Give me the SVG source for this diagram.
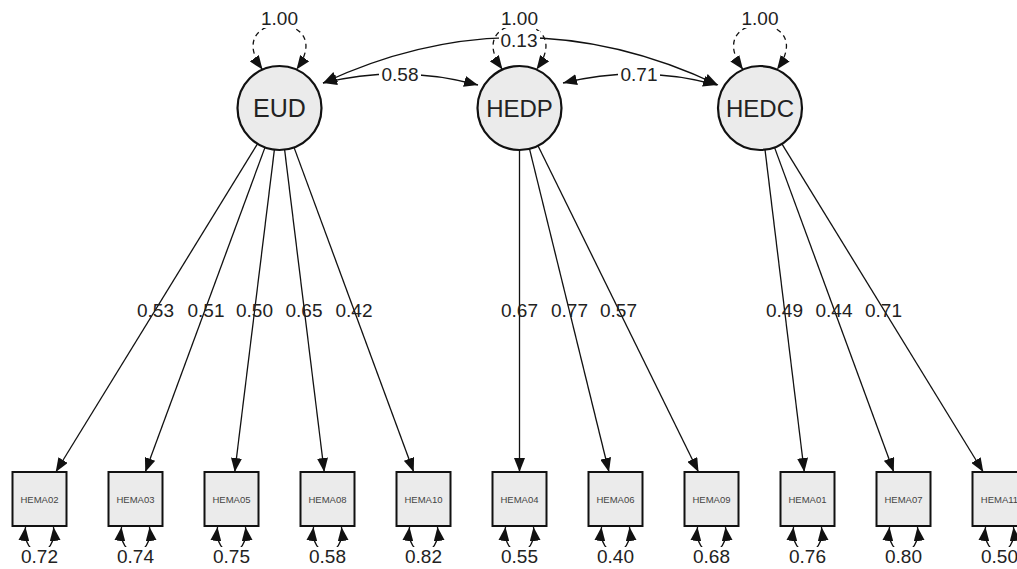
<svg xmlns="http://www.w3.org/2000/svg" width="1017" height="569" viewBox="0 0 1017 569">
<style>
.lat{fill:#ebebeb;stroke:#111;stroke-width:2.2}
.man{fill:#ebebeb;stroke:#111;stroke-width:2}
.edge{fill:none;stroke:#111;stroke-width:1.3}
.dash{fill:none;stroke:#111;stroke-width:1.3;stroke-dasharray:5,4}
.lt{font-family:"Liberation Sans",Arial,sans-serif;font-size:25px;fill:#222;text-anchor:middle}
.mt{font-family:"Liberation Sans",Arial,sans-serif;font-size:9.5px;fill:#444;text-anchor:middle}
.el{font-family:"Liberation Sans",Arial,sans-serif;font-size:19px;fill:#222;text-anchor:middle}
.bg{fill:#fff}
</style>
<defs>
<marker id="ah" markerUnits="userSpaceOnUse" markerWidth="14" markerHeight="11" refX="14" refY="5.5" orient="auto-start-reverse" viewBox="0 0 14 11">
<path d="M0,0 L14,5.5 L0,11 z" fill="#111"/>
</marker>
</defs>
<g id="connectors">
<line class="edge" x1="257.5" y1="143.8" x2="55.75" y2="472" marker-end="url(#ah)"/>
<line class="edge" x1="265" y1="147.4" x2="145.25" y2="472" marker-end="url(#ah)"/>
<line class="edge" x1="274.4" y1="149.7" x2="234.75" y2="472" marker-end="url(#ah)"/>
<line class="edge" x1="284.6" y1="149.7" x2="324.25" y2="472" marker-end="url(#ah)"/>
<line class="edge" x1="294" y1="147.4" x2="413.75" y2="472" marker-end="url(#ah)"/>
<line class="edge" x1="519.5" y1="150" x2="519.5" y2="472" marker-end="url(#ah)"/>
<line class="edge" x1="529.5" y1="148.8" x2="609" y2="472" marker-end="url(#ah)"/>
<line class="edge" x1="538" y1="145.7" x2="698.5" y2="472" marker-end="url(#ah)"/>
<line class="edge" x1="765" y1="149.7" x2="804.3" y2="472" marker-end="url(#ah)"/>
<line class="edge" x1="774.5" y1="147.4" x2="893.8" y2="472" marker-end="url(#ah)"/>
<line class="edge" x1="781.9" y1="143.8" x2="983.3" y2="472" marker-end="url(#ah)"/>
<path class="dash" d="M262.5,69.6 C219.5,10 339.5,10 296.5,69.6" marker-start="url(#ah)" marker-end="url(#ah)"/>
<path class="dash" d="M502.5,69.6 C459.5,10 579.5,10 536.5,69.6" marker-start="url(#ah)" marker-end="url(#ah)"/>
<path class="dash" d="M743,69.6 C700,10 820,10 777,69.6" marker-start="url(#ah)" marker-end="url(#ah)"/>
<path class="edge" d="M323,83 Q520,-9 718,85" marker-start="url(#ah)" marker-end="url(#ah)"/>
<path class="edge" d="M323,83 Q400,64 478,85" marker-start="url(#ah)" marker-end="url(#ah)"/>
<path class="edge" d="M563,83 Q640,64 717,85" marker-start="url(#ah)" marker-end="url(#ah)"/>
<path class="edge" d="M25.5,527 C21.5,560 57.5,560 53.5,527" marker-start="url(#ah)" marker-end="url(#ah)"/>
<path class="edge" d="M121.5,527 C117.5,560 153.5,560 149.5,527" marker-start="url(#ah)" marker-end="url(#ah)"/>
<path class="edge" d="M217.5,527 C213.5,560 249.5,560 245.5,527" marker-start="url(#ah)" marker-end="url(#ah)"/>
<path class="edge" d="M313.5,527 C309.5,560 345.5,560 341.5,527" marker-start="url(#ah)" marker-end="url(#ah)"/>
<path class="edge" d="M409.5,527 C405.5,560 441.5,560 437.5,527" marker-start="url(#ah)" marker-end="url(#ah)"/>
<path class="edge" d="M505.5,527 C501.5,560 537.5,560 533.5,527" marker-start="url(#ah)" marker-end="url(#ah)"/>
<path class="edge" d="M601.5,527 C597.5,560 633.5,560 629.5,527" marker-start="url(#ah)" marker-end="url(#ah)"/>
<path class="edge" d="M697.5,527 C693.5,560 729.5,560 725.5,527" marker-start="url(#ah)" marker-end="url(#ah)"/>
<path class="edge" d="M793.5,527 C789.5,560 825.5,560 821.5,527" marker-start="url(#ah)" marker-end="url(#ah)"/>
<path class="edge" d="M889.5,527 C885.5,560 921.5,560 917.5,527" marker-start="url(#ah)" marker-end="url(#ah)"/>
<path class="edge" d="M985.5,527 C981.5,560 1017.5,560 1013.5,527" marker-start="url(#ah)" marker-end="url(#ah)"/>
</g>
<g id="edge-labels">
<rect class="bg" x="259" y="8" width="41" height="20"/><text class="el" x="279.5" y="25">1.00</text>
<rect class="bg" x="499" y="8" width="41" height="20"/><text class="el" x="519.5" y="25">1.00</text>
<rect class="bg" x="740" y="8" width="41" height="20"/><text class="el" x="760" y="25">1.00</text>
<rect class="bg" x="499" y="31" width="41" height="18"/><text class="el" x="519" y="47">0.13</text>
<rect class="bg" x="379" y="65" width="42" height="19"/><text class="el" x="400" y="81">0.58</text>
<rect class="bg" x="618" y="65" width="42" height="19"/><text class="el" x="639" y="81">0.71</text>
<text class="el" x="155.5" y="317">0.53</text>
<text class="el" x="206" y="317">0.51</text>
<text class="el" x="254.5" y="317">0.50</text>
<text class="el" x="304" y="317">0.65</text>
<text class="el" x="354" y="317">0.42</text>
<text class="el" x="519.5" y="317">0.67</text>
<text class="el" x="569.5" y="317">0.77</text>
<text class="el" x="618.5" y="317">0.57</text>
<text class="el" x="784.5" y="317">0.49</text>
<text class="el" x="834" y="317">0.44</text>
<text class="el" x="883.5" y="317">0.71</text>
<rect class="bg" x="20" y="547" width="39" height="20"/><text class="el" x="39.5" y="563">0.72</text>
<rect class="bg" x="116" y="547" width="39" height="20"/><text class="el" x="135.5" y="563">0.74</text>
<rect class="bg" x="212" y="547" width="39" height="20"/><text class="el" x="231.5" y="563">0.75</text>
<rect class="bg" x="308" y="547" width="39" height="20"/><text class="el" x="327.5" y="563">0.58</text>
<rect class="bg" x="404" y="547" width="39" height="20"/><text class="el" x="423.5" y="563">0.82</text>
<rect class="bg" x="500" y="547" width="39" height="20"/><text class="el" x="519.5" y="563">0.55</text>
<rect class="bg" x="596" y="547" width="39" height="20"/><text class="el" x="615.5" y="563">0.40</text>
<rect class="bg" x="692" y="547" width="39" height="20"/><text class="el" x="711.5" y="563">0.68</text>
<rect class="bg" x="788" y="547" width="39" height="20"/><text class="el" x="807.5" y="563">0.76</text>
<rect class="bg" x="884" y="547" width="39" height="20"/><text class="el" x="903.5" y="563">0.80</text>
<rect class="bg" x="980" y="547" width="39" height="20"/><text class="el" x="999.5" y="563">0.50</text>
</g>
<g id="EUD"><circle class="lat" cx="279.5" cy="108" r="42"/><text class="lt" x="279.5" y="117">EUD</text></g>
<g id="HEDP"><circle class="lat" cx="519.5" cy="108" r="42"/><text class="lt" x="519.5" y="117" style="font-size:24px">HEDP</text></g>
<g id="HEDC"><circle class="lat" cx="760" cy="108" r="42"/><text class="lt" x="760" y="117" style="font-size:24px">HEDC</text></g>
<g id="HEMA02"><rect class="man" x="12.5" y="472" width="54" height="54"/><text class="mt" x="39.5" y="502.5">HEMA02</text></g>
<g id="HEMA03"><rect class="man" x="108.5" y="472" width="54" height="54"/><text class="mt" x="135.5" y="502.5">HEMA03</text></g>
<g id="HEMA05"><rect class="man" x="204.5" y="472" width="54" height="54"/><text class="mt" x="231.5" y="502.5">HEMA05</text></g>
<g id="HEMA08"><rect class="man" x="300.5" y="472" width="54" height="54"/><text class="mt" x="327.5" y="502.5">HEMA08</text></g>
<g id="HEMA10"><rect class="man" x="396.5" y="472" width="54" height="54"/><text class="mt" x="423.5" y="502.5">HEMA10</text></g>
<g id="HEMA04"><rect class="man" x="492.5" y="472" width="54" height="54"/><text class="mt" x="519.5" y="502.5">HEMA04</text></g>
<g id="HEMA06"><rect class="man" x="588.5" y="472" width="54" height="54"/><text class="mt" x="615.5" y="502.5">HEMA06</text></g>
<g id="HEMA09"><rect class="man" x="684.5" y="472" width="54" height="54"/><text class="mt" x="711.5" y="502.5">HEMA09</text></g>
<g id="HEMA01"><rect class="man" x="780.5" y="472" width="54" height="54"/><text class="mt" x="807.5" y="502.5">HEMA01</text></g>
<g id="HEMA07"><rect class="man" x="876.5" y="472" width="54" height="54"/><text class="mt" x="903.5" y="502.5">HEMA07</text></g>
<g id="HEMA11"><rect class="man" x="972.5" y="472" width="54" height="54"/><text class="mt" x="999.5" y="502.5">HEMA11</text></g>
</svg>
